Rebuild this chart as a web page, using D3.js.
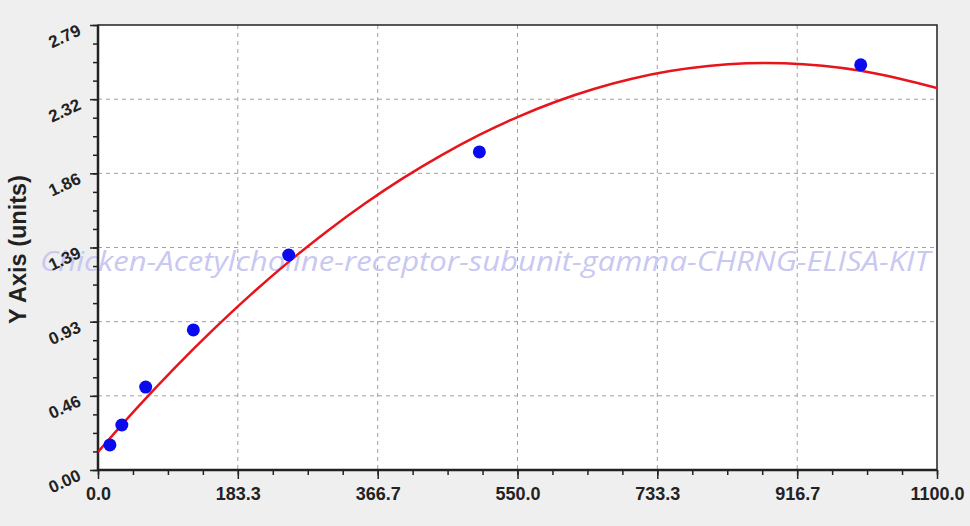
<!DOCTYPE html>
<html><head><meta charset="utf-8">
<script src="https://cdn.jsdelivr.net/npm/d3@7/dist/d3.min.js"></script>
<style>
html,body{margin:0;padding:0;background:#efefef;}
svg{display:block;}
</style></head>
<body>
<svg id="chart" width="970" height="526"></svg>
<script>
// ---- data ----
const concentrations = [15.625, 31.25, 62.5, 125, 250, 500, 1000];
const odValues = [0.157, 0.282, 0.52, 0.878, 1.348, 1.994, 2.54];
const curveX = [0, 50, 100, 150, 200, 250, 300, 350, 400, 450, 500, 550, 600, 650, 700, 750, 800, 850, 900, 950, 1000, 1050, 1100];
const curveY = [0.113, 0.383, 0.637, 0.875, 1.098, 1.305, 1.496, 1.671, 1.830, 1.973, 2.101, 2.213, 2.309, 2.389, 2.453, 2.501, 2.533, 2.550, 2.550, 2.534, 2.503, 2.455, 2.395];
const xTickValues = [0, 183.3, 366.7, 550.0, 733.3, 916.7, 1100.0];
const xTickLabels = ["0.0", "183.3", "366.7", "550.0", "733.3", "916.7", "1100.0"];
const yTickValues = [0, 0.465, 0.93, 1.395, 1.86, 2.325, 2.79];
const yTickLabels = ["0.00", "0.46", "0.93", "1.39", "1.86", "2.32", "2.79"];
const yAxisTitle = "Y Axis (units)";
const watermark = "Chicken-Acetylcholine-receptor-subunit-gamma-CHRNG-ELISA-KIT";

// ---- layout ----
const L = 98, R = 937, T = 25, B = 470;
const svg = d3.select("#chart");
const x = d3.scaleLinear().domain([0, 1100]).range([L, R]);
const y = d3.scaleLinear().domain([0, 2.79]).range([B, T]);

svg.append("rect").attr("x", L).attr("y", T).attr("width", R - L).attr("height", B - T).attr("fill", "#ffffff");

// grid
const grid = svg.append("g").attr("stroke", "#a0a0a0").attr("stroke-width", 1).attr("stroke-dasharray", "4,4");
xTickValues.slice(1, -1).forEach(v => {
  grid.append("line").attr("x1", x(v)).attr("x2", x(v)).attr("y1", T).attr("y2", B);
});
yTickValues.slice(1, -1).forEach(v => {
  grid.append("line").attr("x1", L).attr("x2", R).attr("y1", y(v)).attr("y2", y(v));
});

// minor tick values
const xMinor = d3.range(0, 25).map(i => i * 1100 / 24);
const yMinor = d3.range(0, 25).map(i => i * 2.79 / 24);

// watermark
svg.append("text")
  .attr("x", 40).attr("y", 271)
  .attr("textLength", 890).attr("lengthAdjust", "spacingAndGlyphs")
  .attr("font-family", "'Open Sans', 'DejaVu Sans', sans-serif")
  .attr("font-style", "italic")
  .attr("font-size", 27)
  .attr("fill", "#c8c8f2")
  .text(watermark);

// axes
const xAxisMinor = d3.axisBottom(x).tickValues(xMinor).tickSize(5).tickFormat("");
const xAxis = d3.axisBottom(x).tickValues(xTickValues).tickSize(9).tickFormat((d, i) => xTickLabels[i]);
const yAxisMinor = d3.axisLeft(y).tickValues(yMinor).tickSize(5).tickFormat("");
const yAxis = d3.axisLeft(y).tickValues(yTickValues).tickSize(8).tickFormat((d, i) => yTickLabels[i]);

function styleAxis(g) {
  g.select(".domain").remove();
  g.selectAll(".tick line").attr("stroke", "#222").attr("stroke-width", 1.5);
}
svg.append("g").attr("transform", `translate(0,${B})`).call(xAxisMinor).call(styleAxis);
const gx = svg.append("g").attr("transform", `translate(0,${B})`).call(xAxis).call(styleAxis);
gx.selectAll(".tick text")
  .attr("font-family", "'Liberation Sans', Arial, sans-serif")
  .attr("font-weight", "bold").attr("font-size", 18).attr("fill", "#222")
  .attr("y", 17).attr("dy", "0.71em");

svg.append("g").attr("transform", `translate(${L},0)`).call(yAxisMinor).call(styleAxis);
const gy = svg.append("g").attr("transform", `translate(${L},0)`).call(yAxis).call(styleAxis);
gy.selectAll(".tick text")
  .attr("font-family", "'Liberation Sans', Arial, sans-serif")
  .attr("font-weight", "bold").attr("font-size", 17).attr("fill", "#222")
  .attr("x", null).attr("dy", null)
  .attr("text-anchor", "end")
  .attr("transform", "translate(-16,9) rotate(-25)");

// frame
svg.append("rect").attr("x", L).attr("y", T).attr("width", R - L).attr("height", B - T)
  .attr("fill", "none").attr("stroke", "#222").attr("stroke-width", 1.5);
svg.append("line").attr("x1", L).attr("x2", L).attr("y1", T).attr("y2", B).attr("stroke", "#222").attr("stroke-width", 2.5);
svg.append("line").attr("x1", L).attr("x2", R).attr("y1", B).attr("y2", B).attr("stroke", "#222").attr("stroke-width", 2.5);

// y title
svg.append("text")
  .attr("transform", `translate(26,${(T + B) / 2 + 2}) rotate(-90)`)
  .attr("text-anchor", "middle")
  .attr("font-family", "'Liberation Sans', Arial, sans-serif")
  .attr("font-weight", "bold").attr("font-size", 23.5).attr("fill", "#222")
  .text(yAxisTitle);

// curve
const curveData = curveX.map((v, i) => [v, curveY[i]]);
svg.append("clipPath").attr("id", "plotclip").append("rect")
  .attr("x", L).attr("y", T).attr("width", R - L).attr("height", B - T);
svg.append("path")
  .datum(curveData)
  .attr("clip-path", "url(#plotclip)")
  .attr("fill", "none").attr("stroke", "#e8141b").attr("stroke-width", 2.5)
  .attr("d", d3.line().x(d => x(d[0])).y(d => y(d[1])).curve(d3.curveCatmullRom));

// points
svg.append("g").selectAll("circle")
  .data(concentrations.map((c, i) => [c, odValues[i]]))
  .join("circle")
  .attr("cx", d => x(d[0])).attr("cy", d => y(d[1])).attr("r", 6.5)
  .attr("fill", "#0a0aee");
</script>
</body></html>
